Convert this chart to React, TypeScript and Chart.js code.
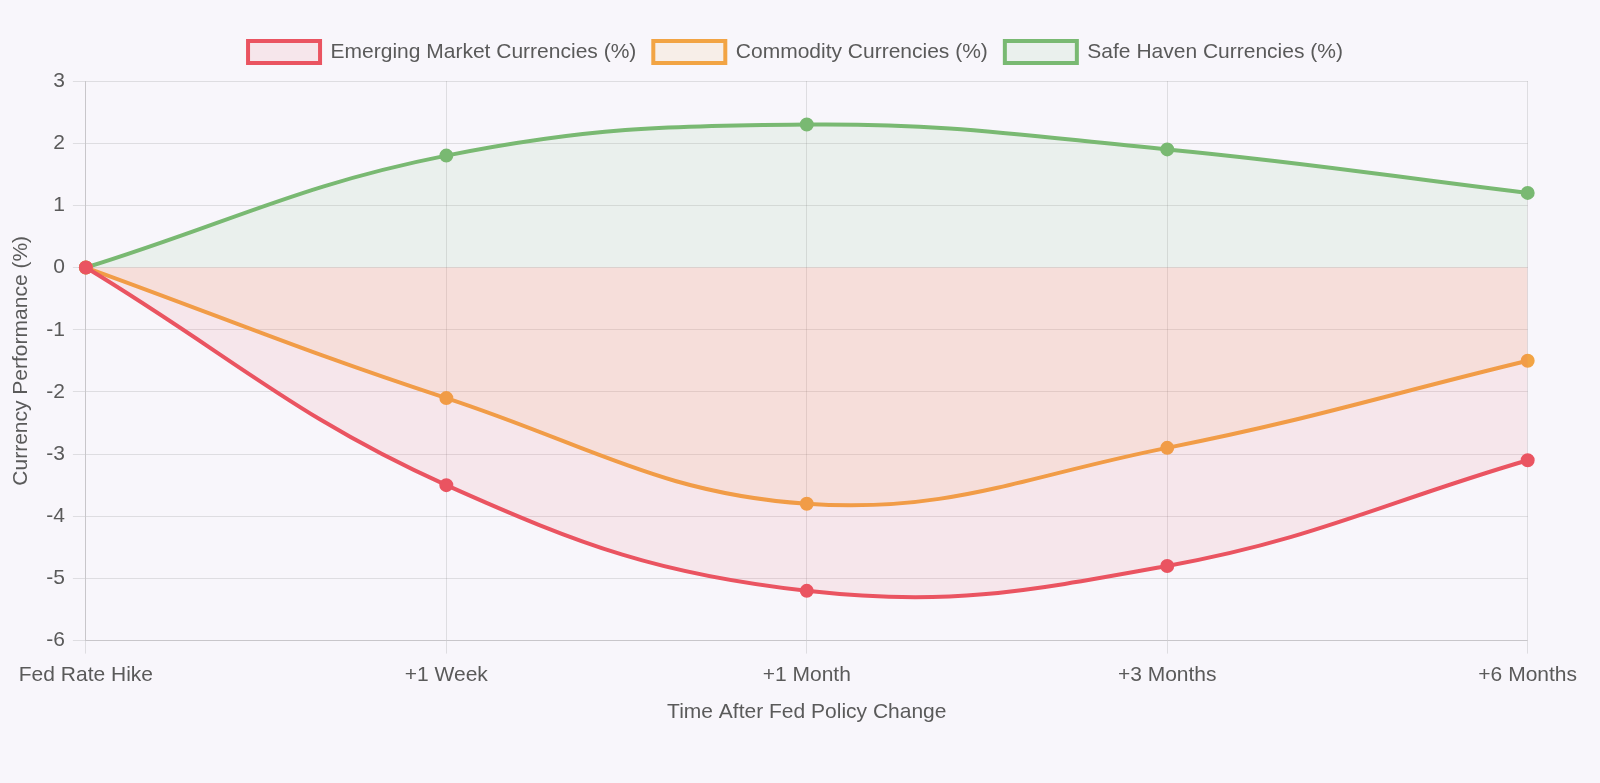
import { useEffect, useRef } from "react"
import { Chart, registerables } from "chart.js"

Chart.register(...registerables)

const labels = ["Fed Rate Hike", "+1 Week", "+1 Month", "+3 Months", "+6 Months"]
const emergingValues = [0, -3.5, -5.2, -4.8, -3.1]
const commodityValues = [0, -2.1, -3.8, -2.9, -1.5]
const safeHavenValues = [0, 1.8, 2.3, 1.9, 1.2]

const FONT = "'Helvetica Neue', Helvetica, 'Liberation Sans', Arial, sans-serif"
const TEXT = "#5a5a5a"

// a little extra room under the legend
const legendGap = {
  id: "legendGap",
  beforeInit(chart: any) {
    const fit = chart.legend.fit
    chart.legend.fit = function () {
      fit.bind(chart.legend)()
      this.height += 8
    }
  },
}

export default function App() {
  const chartRef = useRef<HTMLCanvasElement>(null)
  const chartInstance = useRef<Chart | null>(null)

  useEffect(() => {
    document.body.style.background = "#f8f6fb"
    if (!chartRef.current) return
    if (chartInstance.current) chartInstance.current.destroy()
    const ctx = chartRef.current.getContext("2d")
    if (!ctx) return

    const line = (label: string, data: number[], color: string, fill: string) => ({
      label,
      data,
      borderColor: color,
      backgroundColor: fill,
      pointBackgroundColor: color,
      pointBorderColor: color,
      borderWidth: 4,
      pointRadius: 6,
      pointBorderWidth: 2,
      tension: 0.4,
      fill: "origin",
    })

    chartInstance.current = new Chart(ctx, {
      type: "line",
      data: {
        labels,
        datasets: [
          line("Emerging Market Currencies (%)", emergingValues, "#ea5461", "rgba(234, 84, 97, 0.1)"),
          line("Commodity Currencies (%)", commodityValues, "#f2a444", "rgba(242, 164, 68, 0.1)"),
          line("Safe Haven Currencies (%)", safeHavenValues, "#79b972", "rgba(121, 185, 114, 0.1)"),
        ],
      },
      options: {
        responsive: true,
        maintainAspectRatio: false,
        animation: false,
        plugins: {
          legend: {
            labels: {
              color: TEXT,
              font: { family: FONT, size: 21 },
              boxWidth: 72,
              boxHeight: 22,
              padding: 17,
            },
          },
        },
        scales: {
          x: {
            grid: { tickLength: 13 },
            ticks: { color: TEXT, padding: 9, font: { family: FONT, size: 21 } },
            title: {
              display: true,
              text: "Time After Fed Policy Change",
              color: TEXT,
              padding: { top: 3, bottom: 4 },
              font: { family: FONT, size: 21 },
            },
          },
          y: {
            min: -6,
            max: 3,
            grid: { tickLength: 13 },
            ticks: { stepSize: 1, color: TEXT, padding: 8, font: { family: FONT, size: 21 } },
            title: {
              display: true,
              text: "Currency Performance (%)",
              color: TEXT,
              font: { family: FONT, size: 21 },
            },
          },
        },
      },
      plugins: [legendGap],
    })

    return () => {
      if (chartInstance.current) chartInstance.current.destroy()
    }
  }, [])

  return (
    <div style={{ position: "relative", width: 1581, height: 705, marginTop: 16, marginLeft: -3 }}>
      <canvas ref={chartRef} />
    </div>
  )
}
